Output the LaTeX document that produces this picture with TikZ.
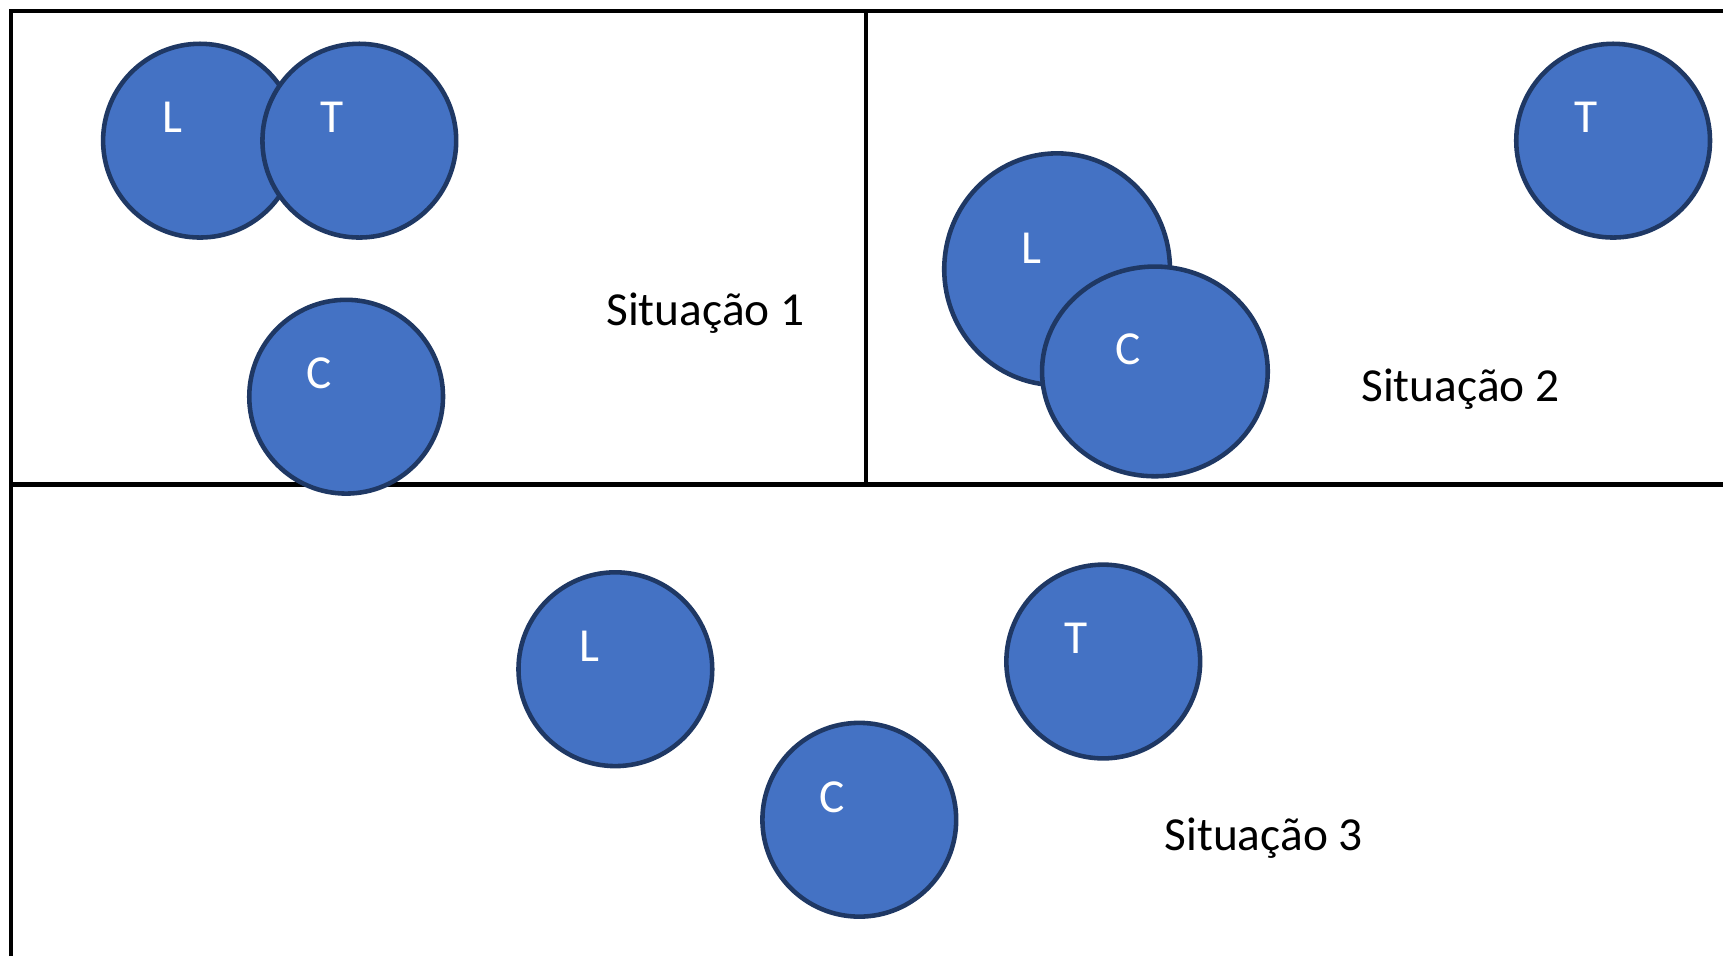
\documentclass[tikz,border=0pt]{standalone}
\usepackage{fontspec}
\setmainfont{Carlito}
\usetikzlibrary{calc,positioning,shapes.geometric}
\definecolor{ballblue}{HTML}{4472C4}
\definecolor{balledge}{HTML}{1F3864}

\begin{document}
\begin{tikzpicture}[
    x=0.011cm,
    y=-0.011cm,
    frame/.style={draw=black,line width=1.3pt},
    ball/.style={ellipse,draw=balledge,fill=ballblue,line width=1.3pt,
      minimum width=1.94cm,minimum height=1.94cm,inner sep=0pt},
    tag/.style={text=white,inner sep=0pt,font=\fontsize{13.5}{15}\selectfont},
    caption/.style={text=black,inner sep=0pt,font=\fontsize{13.5}{15}\selectfont}
    ]
    \useasboundingbox (0,0) rectangle (1568,870);

    % frame and dividers
    \draw[frame] (10,870) -- (10,10) -- (1568,10);
    \draw[frame] (10,441) -- (1568,441);
    \draw[frame,line width=1.1pt] (788,10) -- (788,441);

    % situation 1
    \node[ball] (l1) at (182,128) {};
    \node[ball] (t1) at (327,128) {};
    \node[ball] (c1) at (315,361) {};
    \node[tag] at ($(l1)+(-25,-21)$) {L};
    \node[tag] at ($(t1)+(-25,-21)$) {T};
    \node[tag] at ($(c1)+(-25,-21)$) {C};
    \node[caption] (s1) at (642,285) {Situação 1};

    % situation 2
    \node[ball,minimum width=2.26cm,minimum height=2.32cm] (l2) at (962,245) {};
    \node[ball,minimum width=2.26cm,minimum height=2.1cm] (c2) at (1051,338) {};
    \node[ball] (t2) at (1468,128) {};
    \node[tag] at ($(l2)+(-23,-19)$) {L};
    \node[tag] at ($(c2)+(-24,-20)$) {C};
    \node[tag] at ($(t2)+(-25,-21)$) {T};
    \node[caption] (s2) at (1329,354) {Situação 2};

    % situation 3
    \node[ball] (l3) at (560,609) {};
    \node[ball] (t3) at (1004,602) {};
    \node[ball] (c3) at (782,746) {};
    \node[tag] at ($(l3)+(-24,-21)$) {L};
    \node[tag] at ($(t3)+(-25,-21)$) {T};
    \node[tag] at ($(c3)+(-25,-20)$) {C};
    \node[caption] (s3) at (1150,763) {Situação 3};
  \end{tikzpicture}
\end{document}
